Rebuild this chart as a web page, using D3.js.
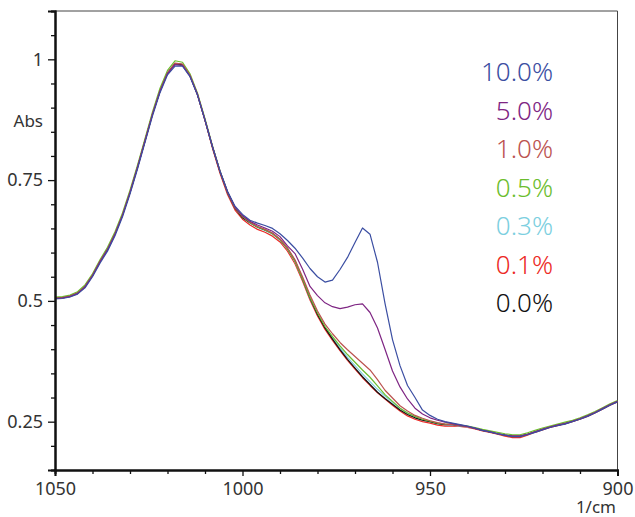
<!DOCTYPE html>
<html>
<head>
<meta charset="utf-8">
<script src="https://cdn.jsdelivr.net/npm/d3@7"></script>
<style>
  html, body { margin: 0; padding: 0; background: #fff; }
  svg { display: block; font-family: "Noto Sans", "Open Sans", sans-serif; }
</style>
</head>
<body>
<svg id="chart" width="635" height="517"></svg>
<script>
// Wavenumber grid (1/cm), 1050 down to 900
const wavenumbers = [
  1050,1048,1046,1044,1042,1040,1038,1036,1034,1032,1030,1028,1026,1024,1022,1020,1018,1016,1014,1012,
  1010,1008,1006,1004,1002,1000,998,996,994,992,990,988,986,984,982,980,978,976,974,972,
  970,968,966,964,962,960,958,956,954,952,950,948,946,944,942,940,938,936,934,932,
  930,928,926,924,922,920,918,916,914,912,910,908,906,904,902,900
];

// Absorbance spectra by concentration
const abs100 = [
  0.504,0.505,0.508,0.514,0.527,0.550,0.578,0.603,0.635,0.674,0.721,0.773,0.828,0.883,0.931,0.968,0.986,0.986,0.964,0.926,
  0.874,0.819,0.769,0.727,0.696,0.679,0.667,0.661,0.656,0.650,0.639,0.625,0.609,0.589,0.567,0.550,0.539,0.543,0.565,0.590,
  0.621,0.651,0.638,0.580,0.495,0.420,0.366,0.325,0.300,0.274,0.263,0.255,0.250,0.247,0.244,0.241,0.237,0.232,0.229,0.225,
  0.222,0.219,0.219,0.223,0.228,0.233,0.238,0.242,0.245,0.250,0.255,0.261,0.268,0.276,0.284,0.291
];
const abs50 = [
  0.505,0.506,0.509,0.515,0.529,0.552,0.581,0.606,0.638,0.677,0.724,0.776,0.831,0.886,0.934,0.970,0.989,0.987,0.965,0.927,
  0.874,0.819,0.768,0.726,0.694,0.676,0.665,0.657,0.651,0.644,0.633,0.614,0.598,0.566,0.530,0.511,0.496,0.488,0.484,0.487,
  0.492,0.494,0.476,0.444,0.400,0.355,0.322,0.297,0.278,0.266,0.258,0.253,0.249,0.246,0.243,0.240,0.236,0.232,0.229,0.225,
  0.222,0.220,0.220,0.224,0.229,0.234,0.239,0.243,0.246,0.251,0.256,0.262,0.269,0.277,0.285,0.292
];
const abs10 = [
  0.506,0.507,0.510,0.516,0.530,0.553,0.582,0.607,0.639,0.678,0.725,0.777,0.832,0.887,0.935,0.972,0.992,0.990,0.967,0.928,
  0.875,0.819,0.768,0.725,0.693,0.675,0.663,0.654,0.648,0.640,0.628,0.610,0.585,0.550,0.512,0.479,0.452,0.432,0.414,0.399,
  0.385,0.371,0.357,0.337,0.315,0.299,0.283,0.272,0.263,0.257,0.252,0.248,0.245,0.244,0.242,0.240,0.236,0.232,0.229,0.225,
  0.222,0.220,0.220,0.224,0.229,0.234,0.239,0.243,0.246,0.251,0.256,0.262,0.269,0.277,0.285,0.292
];
const abs05 = [
  0.508,0.509,0.512,0.519,0.533,0.556,0.585,0.611,0.643,0.682,0.729,0.781,0.836,0.891,0.940,0.977,0.997,0.994,0.970,0.930,
  0.877,0.821,0.769,0.726,0.693,0.674,0.662,0.653,0.647,0.639,0.627,0.608,0.582,0.546,0.507,0.475,0.447,0.426,0.407,0.389,
  0.373,0.357,0.342,0.324,0.306,0.292,0.278,0.268,0.261,0.255,0.251,0.247,0.245,0.245,0.243,0.241,0.238,0.234,0.231,0.228,
  0.225,0.223,0.223,0.227,0.232,0.237,0.241,0.245,0.249,0.253,0.258,0.264,0.271,0.279,0.287,0.294
];
const abs03 = [
  0.506,0.507,0.510,0.516,0.530,0.553,0.582,0.607,0.639,0.678,0.725,0.777,0.832,0.887,0.935,0.972,0.991,0.989,0.966,0.927,
  0.875,0.819,0.768,0.724,0.692,0.673,0.661,0.652,0.646,0.638,0.626,0.607,0.581,0.545,0.505,0.473,0.446,0.424,0.403,0.383,
  0.366,0.349,0.333,0.317,0.303,0.290,0.278,0.268,0.260,0.254,0.250,0.246,0.244,0.243,0.241,0.239,0.236,0.232,0.229,0.225,
  0.222,0.220,0.220,0.224,0.229,0.234,0.239,0.243,0.247,0.251,0.256,0.262,0.269,0.277,0.285,0.292
];
const abs01 = [
  0.505,0.506,0.509,0.515,0.529,0.552,0.581,0.606,0.638,0.677,0.724,0.776,0.831,0.886,0.934,0.971,0.991,0.989,0.966,0.926,
  0.873,0.816,0.764,0.720,0.688,0.669,0.657,0.648,0.642,0.634,0.622,0.603,0.577,0.541,0.502,0.469,0.441,0.418,0.397,0.377,
  0.359,0.341,0.325,0.310,0.297,0.284,0.272,0.262,0.255,0.250,0.247,0.243,0.241,0.241,0.240,0.238,0.235,0.231,0.228,0.224,
  0.220,0.217,0.217,0.222,0.228,0.233,0.238,0.242,0.246,0.250,0.255,0.261,0.268,0.276,0.284,0.291
];
const abs00 = [
  0.506,0.507,0.510,0.516,0.530,0.553,0.582,0.607,0.639,0.678,0.725,0.777,0.832,0.887,0.935,0.972,0.991,0.989,0.966,0.927,
  0.874,0.818,0.767,0.724,0.692,0.672,0.662,0.653,0.647,0.640,0.627,0.608,0.583,0.546,0.506,0.472,0.444,0.421,0.399,0.379,
  0.361,0.343,0.327,0.311,0.298,0.286,0.274,0.265,0.258,0.253,0.250,0.246,0.244,0.244,0.242,0.240,0.236,0.232,0.229,0.225,
  0.222,0.220,0.220,0.224,0.229,0.234,0.239,0.243,0.246,0.251,0.256,0.262,0.269,0.277,0.285,0.292
];

// Legend order, top to bottom
const seriesLabels = ["10.0%", "5.0%", "1.0%", "0.5%", "0.3%", "0.1%", "0.0%"];
const seriesData   = [abs100, abs50, abs10, abs05, abs03, abs01, abs00];
const seriesColors = ["#3b4ea2", "#7e2583", "#bb5350", "#6bbd2e", "#7ccfe0", "#ec2a25", "#111111"];
// drawing order (indices into the arrays above), last drawn on top
const drawOrder = [5, 4, 6, 3, 2, 1, 0];

const yMajorTicks = [0.25, 0.5, 0.75, 1];
const xMajorTicks = [1050, 1000, 950, 900];

const svg = d3.select("#chart");
const plotLeft = 55, plotRight = 617.5, plotTop = 11, plotBottom = 470;

const x = d3.scaleLinear().domain([1050, 900]).range([plotLeft, plotRight]);
const y = d3.scaleLinear().domain([0.15, 1.1]).range([plotBottom, plotTop]);

// clip region for the spectra
svg.append("defs").append("clipPath").attr("id", "plotClip")
  .append("rect").attr("x", plotLeft).attr("y", plotTop)
  .attr("width", plotRight - plotLeft).attr("height", plotBottom - plotTop);

// frame: top and right edges
svg.append("line").attr("x1", plotLeft).attr("x2", plotRight).attr("y1", plotTop).attr("y2", plotTop)
  .attr("stroke", "#444").attr("stroke-width", 1);
svg.append("line").attr("x1", plotRight).attr("x2", plotRight).attr("y1", plotTop).attr("y2", plotBottom)
  .attr("stroke", "#444").attr("stroke-width", 1);

// spectra
const line = d3.line()
  .x((d, i) => x(wavenumbers[i]))
  .y(d => y(d));

const gLines = svg.append("g").attr("clip-path", "url(#plotClip)");
drawOrder.forEach(k => {
  gLines.append("path")
    .datum(seriesData[k])
    .attr("fill", "none")
    .attr("stroke", seriesColors[k])
    .attr("stroke-width", 1.2)
    .attr("stroke-linejoin", "round")
    .attr("d", line);
});

// y axis: minor ticks every 0.05, labelled ticks at 0.25 steps
const yMinor = d3.range(3, 23).map(v => v * 0.05).filter(v => !yMajorTicks.some(m => Math.abs(m - v) < 1e-6));
const yAxisMinor = svg.append("g").attr("transform", `translate(${plotLeft},0)`)
  .call(d3.axisLeft(y).tickValues(yMinor).tickSize(4).tickFormat(""));
const yAxis = svg.append("g").attr("transform", `translate(${plotLeft},0)`)
  .call(d3.axisLeft(y).tickValues(yMajorTicks).tickSize(7).tickPadding(5).tickFormat(d3.format("")));

// x axis: minor ticks every 10, labelled every 50
const xMinor = d3.range(900, 1051, 10).filter(v => v % 50 !== 0);
const xAxisMinor = svg.append("g").attr("transform", `translate(0,${plotBottom})`)
  .call(d3.axisBottom(x).tickValues(xMinor).tickSize(4).tickFormat(""));
const xAxis = svg.append("g").attr("transform", `translate(0,${plotBottom})`)
  .call(d3.axisBottom(x).tickValues(xMajorTicks).tickSize(6).tickPadding(6).tickFormat(d3.format("")));

[yAxisMinor, yAxis, xAxisMinor, xAxis].forEach(g => {
  g.select(".domain").attr("stroke", "#111").attr("stroke-width", 2);
  g.selectAll(".tick line").attr("stroke", "#111").attr("stroke-width", 1.3);
  g.selectAll(".tick text").attr("fill", "#333").style("font-size", "18px")
    .style("font-family", "'Noto Sans', 'Open Sans', sans-serif");
});

// axis titles
svg.append("text").attr("x", 43).attr("y", 127).attr("text-anchor", "end")
  .attr("fill", "#333").style("font-size", "17px").text("Abs");
svg.append("text").attr("x", 616).attr("y", 513).attr("text-anchor", "end")
  .attr("fill", "#333").style("font-size", "17px").text("1/cm");

// legend
svg.append("g").selectAll("text")
  .data(seriesLabels)
  .join("text")
  .attr("x", 553)
  .attr("y", (d, i) => 81 + i * 38.5)
  .attr("text-anchor", "end")
  .attr("fill", (d, i) => seriesColors[i])
  .style("font-size", "26px")
  .style("font-weight", 300)
  .text(d => d);
</script>
</body>
</html>
